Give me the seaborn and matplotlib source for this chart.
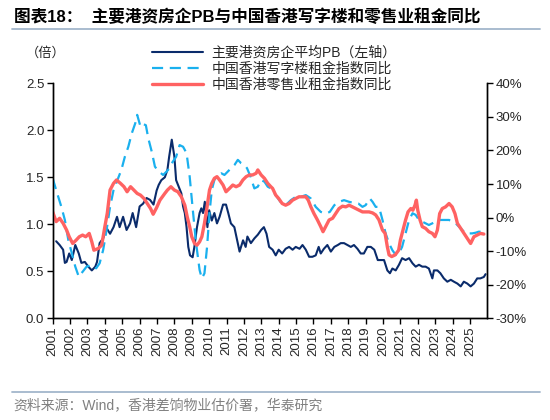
import matplotlib
matplotlib.use("Agg")
import matplotlib.pyplot as plt
from matplotlib.lines import Line2D
from matplotlib.ticker import FuncFormatter
import pandas as pd
import seaborn as sns

# 主要港资房企平均PB (left axis)
pb_t = [2001.2, 2001.4, 2001.6, 2001.7, 2001.8, 2001.95, 2002.1, 2002.3, 2002.5, 2002.65,
        2002.85, 2003.05, 2003.25, 2003.45, 2003.55, 2003.7, 2003.9, 2004.1, 2004.3, 2004.5,
        2004.7, 2004.85, 2005.05, 2005.25, 2005.45, 2005.6, 2005.8, 2006.0, 2006.2, 2006.4,
        2006.6, 2006.8, 2006.98, 2007.1, 2007.25, 2007.45, 2007.6, 2007.7, 2007.85, 2008.0,
        2008.1, 2008.25, 2008.4, 2008.5, 2008.6, 2008.7, 2008.8, 2008.9, 2009.05, 2009.15,
        2009.3, 2009.45, 2009.55, 2009.65, 2009.75, 2009.9, 2010.0, 2010.15, 2010.3, 2010.45,
        2010.6, 2010.8, 2010.97, 2011.1, 2011.25, 2011.45, 2011.65, 2011.75, 2011.95, 2012.1,
        2012.2, 2012.4, 2012.6, 2012.8, 2012.99, 2013.15, 2013.3, 2013.45, 2013.65, 2013.83,
        2014.0, 2014.2, 2014.4, 2014.6, 2014.8, 2014.98, 2015.2, 2015.37, 2015.56, 2015.75,
        2015.94, 2016.13, 2016.3, 2016.42, 2016.6, 2016.8, 2017.0, 2017.2, 2017.4, 2017.57,
        2017.76, 2017.95, 2018.15, 2018.33, 2018.53, 2018.72, 2018.9, 2019.1, 2019.3, 2019.5,
        2019.7, 2019.85, 2020.06, 2020.25, 2020.4, 2020.54, 2020.73, 2020.92, 2021.1, 2021.3,
        2021.5, 2021.7, 2021.88, 2022.07, 2022.26, 2022.45, 2022.64, 2022.84, 2022.93, 2023.13,
        2023.3, 2023.5, 2023.7, 2023.9, 2024.08, 2024.28, 2024.47, 2024.65, 2024.85, 2025.04,
        2025.23, 2025.42, 2025.6, 2025.8, 2025.9]
pb_v = [0.82, 0.78, 0.73, 0.59, 0.60, 0.69, 0.62, 0.78, 0.69, 0.59,
        0.60, 0.55, 0.51, 0.55, 0.60, 0.80, 0.85, 0.96, 0.90, 0.97,
        1.08, 0.97, 1.08, 0.94, 1.01, 1.12, 0.97, 1.19, 1.22, 1.28,
        1.26, 1.21, 1.36, 1.42, 1.47, 1.50, 1.58, 1.72, 1.90, 1.72,
        1.47, 1.40, 1.33, 1.19, 1.12, 0.97, 0.76, 0.67, 0.65, 0.76,
        0.97, 1.12, 1.17, 1.12, 1.24, 0.97, 1.15, 1.04, 1.12, 1.01,
        1.08, 1.21, 1.21, 1.12, 1.01, 0.97, 0.80, 0.71, 0.83, 0.76,
        0.87, 0.80, 0.85, 0.89, 0.94, 0.97, 0.90, 0.76, 0.73, 0.67,
        0.73, 0.69, 0.74, 0.76, 0.73, 0.76, 0.74, 0.78, 0.73, 0.655,
        0.655, 0.67, 0.76, 0.69, 0.74, 0.78, 0.71, 0.76, 0.78, 0.80,
        0.80, 0.78, 0.76, 0.78, 0.74, 0.69, 0.69, 0.76, 0.76, 0.73,
        0.62, 0.62, 0.62, 0.51, 0.48, 0.53, 0.51, 0.57, 0.64, 0.62,
        0.64, 0.585, 0.55, 0.57, 0.55, 0.55, 0.53, 0.425, 0.51, 0.51,
        0.48, 0.425, 0.39, 0.41, 0.39, 0.37, 0.34, 0.39, 0.37, 0.34,
        0.37, 0.425, 0.425, 0.44, 0.47]

# 中国香港写字楼租金指数同比 (right axis, %)
office_t = [2001.0, 2001.2, 2001.5, 2001.7, 2001.9, 2002.1, 2002.3, 2002.5, 2002.65, 2002.95,
            2003.25, 2003.5, 2003.7, 2003.9, 2004.1, 2004.3, 2004.5, 2004.8, 2004.95, 2005.15,
            2005.35, 2005.55, 2005.75, 2005.86, 2006.05, 2006.2, 2006.36, 2006.5, 2006.7, 2006.88,
            2007.05, 2007.35, 2007.55, 2007.72, 2007.9, 2008.1, 2008.3, 2008.5, 2008.7, 2008.88,
            2009.06, 2009.25, 2009.45, 2009.58, 2009.73, 2009.88, 2010.02, 2010.15, 2010.3, 2010.5,
            2010.7, 2010.88, 2011.07, 2011.26, 2011.46, 2011.65, 2011.84, 2012.03, 2012.18, 2012.38,
            2012.6, 2012.8, 2012.98, 2013.18, 2013.37, 2013.55, 2013.83, 2014.1, 2014.4, 2014.7,
            2014.98, 2015.27, 2015.56, 2015.85, 2016.13, 2016.42, 2016.7, 2016.94, 2017.2, 2017.47,
            2017.76, 2018.05, 2018.33, 2018.58, 2018.82, 2019.0, 2019.24, 2019.4, 2019.58, 2019.77,
            2019.97, 2020.15, 2020.35, 2020.54, 2020.73, 2020.92, 2021.1, 2021.3, 2021.5, 2021.7,
            2021.88, 2022.07, 2022.26, 2022.45, 2022.64, 2022.84, 2023.03, 2023.22, 2023.4, 2023.6,
            2023.8, 2023.98, 2024.18, 2024.37, 2024.56, 2024.75, 2024.94, 2025.13, 2025.33, 2025.5,
            2025.7, 2025.86]
office_v = [11.7, 8.2, 3.2, -0.7, -6.7, -10.6, -14.6, -17.6, -16.6, -14.6,
            -14.1, -15.1, -13.6, -9.7, -3.7, 3.2, 8.2, 12.2, 14.2, 18.1,
            21.1, 25.1, 28.1, 30.6, 27.1, 27.9, 27.5, 23.6, 19.6, 15.2,
            14.0, 12.7, 13.7, 14.7, 16.6, 18.1, 21.6, 21.1, 19.2, 12.2,
            2.3, -7.7, -15.6, -18.1, -16.6, -8.7, 1.3, 8.2, 11.2, 12.7,
            13.2, 12.7, 13.7, 14.7, 15.7, 17.2, 16.2, 15.7, 14.7, 12.2,
            8.7, 9.2, 11.2, 10.7, 9.2, 8.7, 6.7, 4.7, 3.7, 5.2,
            6.2, 6.2, 6.7, 5.7, 3.2, 1.7, 1.2, 1.7, 3.7, 4.7,
            5.2, 4.7, 4.4, 4.2, 3.2, 3.7, 5.7, 4.7, 3.2, 3.2,
            -0.7, -4.7, -7.7, -9.7, -11.1, -10.6, -8.7, -4.7, -0.7, 1.3,
            0.8, -0.7, -1.2, -1.7, -2.2, -1.7, -1.2, -0.7, -0.7, -0.7,
            -0.7, -1.2, -1.7, -2.7, -3.7, -4.7, -4.7, -4.7, -4.5, -4.2,
            -4.2, -4.2]

# 中国香港零售业租金指数同比 (right axis, %)
retail_t = [2001.0, 2001.2, 2001.4, 2001.6, 2001.8, 2001.95, 2002.15, 2002.35, 2002.53, 2002.72,
            2002.9, 2003.1, 2003.25, 2003.37, 2003.62, 2003.82, 2004.0, 2004.14, 2004.3, 2004.5,
            2004.67, 2004.9, 2005.1, 2005.28, 2005.48, 2005.67, 2005.86, 2006.05, 2006.25, 2006.44,
            2006.63, 2006.78, 2006.98, 2007.17, 2007.45, 2007.6, 2007.8, 2008.0, 2008.2, 2008.4,
            2008.6, 2008.74, 2008.88, 2009.0, 2009.16, 2009.3, 2009.45, 2009.58, 2009.73, 2009.88,
            2010.02, 2010.15, 2010.3, 2010.45, 2010.6, 2010.8, 2010.97, 2011.17, 2011.36, 2011.55,
            2011.75, 2011.94, 2012.13, 2012.32, 2012.5, 2012.7, 2012.8, 2012.99, 2013.18, 2013.37,
            2013.55, 2013.65, 2013.83, 2014.0, 2014.2, 2014.4, 2014.6, 2014.8, 2014.98, 2015.17,
            2015.37, 2015.56, 2015.7, 2015.85, 2016.03, 2016.23, 2016.42, 2016.55, 2016.7, 2016.9,
            2017.1, 2017.28, 2017.47, 2017.67, 2017.86, 2018.05, 2018.24, 2018.43, 2018.62, 2018.82,
            2019.0, 2019.2, 2019.4, 2019.58, 2019.77, 2019.97, 2020.12, 2020.25, 2020.35, 2020.5,
            2020.7, 2020.9, 2021.0, 2021.15, 2021.3, 2021.44, 2021.6, 2021.72, 2021.84, 2021.92,
            2022.0, 2022.13, 2022.26, 2022.45, 2022.64, 2022.84, 2022.99, 2023.13, 2023.26, 2023.41,
            2023.6, 2023.8, 2023.98, 2024.14, 2024.28, 2024.47, 2024.66, 2024.85, 2025.04, 2025.23,
            2025.42, 2025.6, 2025.8]
retail_v = [1.7, -1.2, -0.2, -1.7, -3.7, -5.7, -7.7, -6.7, -5.7, -5.2,
            -5.7, -4.7, -7.2, -9.7, -9.2, -8.2, -2.7, 1.3, 8.2, 10.2,
            11.2, 10.2, 9.2, 7.7, 9.2, 8.2, 7.2, 6.7, 5.7, 4.2,
            2.7, 1.0, 3.0, 5.2, 7.2, 8.2, 9.2, 8.2, 7.7, 6.2,
            3.7, 0.2, -2.7, -5.7, -7.7, -8.2, -7.2, -5.7, -1.7, 3.2,
            8.2, 10.2, 11.7, 12.2, 11.2, 9.7, 7.7, 8.7, 9.7, 9.2,
            9.7, 11.2, 12.2, 12.7, 12.7, 13.2, 14.2, 12.7, 11.7, 10.2,
            9.2, 8.7, 6.7, 5.7, 4.2, 3.7, 4.2, 5.2, 5.7, 6.2,
            6.2, 6.2, 5.2, 3.2, 1.2, -0.7, -2.7, -4.2, -2.7, -0.7,
            -0.2, 1.2, 2.7, 3.4, 3.2, 3.7, 3.2, 2.7, 2.2, 1.7,
            1.7, 1.7, 1.4, 0.8, -0.7, -3.7, -4.7, -8.7, -11.1, -11.6,
            -11.1, -9.7, -6.7, -3.7, -0.7, 1.7, 2.7, 2.2, 3.7, 5.2,
            2.2, -0.7, -2.7, -3.2, -4.2, -4.7, -5.7, -3.7, 1.2, 2.7,
            3.2, 4.2, 3.2, 1.2, -1.7, -3.2, -4.7, -6.2, -7.7, -5.7,
            -5.2, -4.7, -4.9]

years = list(range(2001, 2026))
left_ticks = [0.0, 0.5, 1.0, 1.5, 2.0, 2.5]
right_ticks = [-30, -20, -10, 0, 10, 20, 30, 40]

labels = ["主要港资房企平均PB（左轴）", "中国香港写字楼租金指数同比", "中国香港零售业租金指数同比"]

sns.set_theme(style="white")
plt.rcParams["font.family"] = ["Liberation Sans", "Noto Sans CJK SC"]

pb_df = pd.DataFrame({"t": pb_t, "v": pb_v})
office_df = pd.DataFrame({"t": office_t, "v": office_v})
retail_df = pd.DataFrame({"t": retail_t, "v": retail_v})

fig = plt.figure(figsize=(5.5, 4.2), dpi=100)
ax = fig.add_axes([0.0958, 0.242, 0.7902, 0.5597])
ax2 = ax.twinx()

sns.lineplot(data=pb_df, x="t", y="v", ax=ax, color="#0A2B6B", lw=1.5,
             sort=False, estimator=None, label=labels[0])
sns.lineplot(data=office_df, x="t", y="v", ax=ax2, color="#1AB0EE", lw=1.6,
             sort=False, estimator=None, label=labels[1])
ax2.lines[-1].set_dashes([5, 3])
sns.lineplot(data=retail_df, x="t", y="v", ax=ax2, color="#FF6262", lw=2.4,
             sort=False, estimator=None, label=labels[2])

h1, l1 = ax.get_legend_handles_labels()
h2, l2 = ax2.get_legend_handles_labels()
ax.get_legend().remove()
ax2.get_legend().remove()
fig.legend(h1 + h2, l1 + l2, loc="upper left", bbox_to_anchor=(152 / 550, 1 - 46 / 420),
           frameon=False, fontsize=10, handlelength=3.7, labelspacing=0.15,
           borderaxespad=0, borderpad=0, handletextpad=0.6)

ax.set_xlim(2001, 2026)
ax.set_ylim(0, 2.5)
ax2.set_ylim(-30, 40)
ax.set_xticks(years)
ax.set_xticklabels([str(y) for y in years], rotation=90)
ax.set_yticks(left_ticks)
ax.yaxis.set_major_formatter(FuncFormatter(lambda v, p: f"{v:.1f}"))
ax2.set_yticks(right_ticks)
ax2.yaxis.set_major_formatter(FuncFormatter(lambda v, p: f"{v:.0f}%"))
ax.set_xlabel("")
ax.set_ylabel("")
ax2.set_ylabel("")

for a in (ax, ax2):
    a.spines["top"].set_visible(False)
    for s in ("left", "right", "bottom"):
        a.spines[s].set_color("black")
        a.spines[s].set_linewidth(1.0)
    a.grid(False)
ax.tick_params(axis="both", direction="out", length=4, width=1, color="black",
               labelsize=9.5, pad=2, left=True, bottom=True)
ax2.tick_params(axis="y", direction="out", length=4, width=1, color="black",
                labelsize=9.5, pad=2, right=True)
ax.patch.set_alpha(0)

fig.text(14 / 550, 1 - 17 / 420, "图表18：  主要港资房企PB与中国香港写字楼和零售业租金同比",
         fontsize=12, fontweight="bold", va="center", ha="left", color="black")
fig.add_artist(Line2D([12 / 550, 540 / 550], [1 - 29 / 420] * 2, color="#A3B6CC", lw=1.3))
fig.text(26 / 550, 1 - 53 / 420, "（倍）", fontsize=9.5, va="center", ha="left")
fig.add_artist(Line2D([12 / 550, 540 / 550], [1 - 392 / 420] * 2, color="#A3B6CC", lw=1.3))
fig.text(13 / 550, 1 - 405 / 420, "资料来源：Wind，香港差饷物业估价署，华泰研究",
         fontsize=10, va="center", ha="left", color="#808080")

fig.savefig("out.png", dpi=100)
